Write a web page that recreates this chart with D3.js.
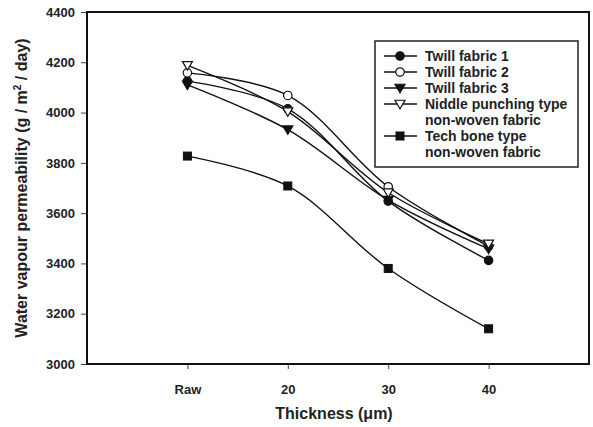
<!DOCTYPE html>
<html>
<head>
<meta charset="utf-8">
<script src="https://cdn.jsdelivr.net/npm/d3@7/dist/d3.min.js"></script>
<style>
  body { margin: 0; background: #fff; }
  svg text { font-family: Arial, "Liberation Sans", sans-serif; font-weight: bold; fill: #222; }
</style>
</head>
<body>
<div id="chart"></div>
<script>
// Thickness categories on the x axis
const categories = ['Raw', '20', '30', '40'];
const yTicks = [3000, 3200, 3400, 3600, 3800, 4000, 4200, 4400];

// Water vapour permeability per fabric (g / m2 / day)
const twill1 = [4125, 4015, 3648, 3412];
const twill2 = [4158, 4068, 3705, 3468];
const twill3 = [4110, 3932, 3652, 3458];
const niddle = [4188, 4004, 3682, 3478];
const techBone = [3827, 3708, 3380, 3140];

const series = [
  { name: ['Twill fabric 1'], values: twill1, marker: 'circle', fill: '#111' },
  { name: ['Twill fabric 2'], values: twill2, marker: 'circle', fill: '#fff' },
  { name: ['Twill fabric 3'], values: twill3, marker: 'triDown', fill: '#111' },
  { name: ['Niddle punching type', 'non-woven fabric'], values: niddle, marker: 'triDown', fill: '#fff' },
  { name: ['Tech bone type', 'non-woven fabric'], values: techBone, marker: 'square', fill: '#111' }
];

const width = 593, height = 427;
const margin = { left: 87, top: 12, right: 4, bottom: 63 };

const svg = d3.select('#chart').append('svg')
  .attr('width', width)
  .attr('height', height);

const x = d3.scaleLinear()
  .domain([-1, 4])
  .range([margin.left, width - margin.right]);

const y = d3.scaleLinear()
  .domain([3000, 4400])
  .range([height - margin.bottom, margin.top]);

// Axes
const xAxis = d3.axisBottom(x)
  .tickValues(d3.range(categories.length))
  .tickFormat(i => categories[i])
  .tickSize(5)
  .tickPadding(16);

const yAxis = d3.axisLeft(y)
  .tickValues(yTicks)
  .tickFormat(d3.format('d'))
  .tickSize(6)
  .tickPadding(6);

const gx = svg.append('g')
  .attr('transform', `translate(0,${height - margin.bottom})`)
  .call(xAxis);

const gy = svg.append('g')
  .attr('transform', `translate(${margin.left},0)`)
  .call(yAxis);

[gx, gy].forEach(g => {
  g.select('.domain').remove();
  g.selectAll('.tick line').attr('stroke', '#444').attr('stroke-width', 1);
  g.selectAll('.tick text').style('font-size', '13px').style('font-weight', 'bold').attr('fill', '#333');
});

// Frame
svg.append('rect')
  .attr('x', margin.left)
  .attr('y', margin.top)
  .attr('width', width - margin.right - margin.left)
  .attr('height', height - margin.bottom - margin.top)
  .attr('fill', 'none')
  .attr('stroke', '#111')
  .attr('stroke-width', 2);

// Axis titles
svg.append('text')
  .attr('x', 334)
  .attr('y', 419)
  .attr('text-anchor', 'middle')
  .style('font-size', '16px')
  .text('Thickness (\u03bcm)');

const yTitle = svg.append('text')
  .attr('transform', `translate(27,188) rotate(-90)`)
  .attr('text-anchor', 'middle')
  .style('font-size', '16px');
yTitle.append('tspan').text('Water vapour permeability (g / m');
yTitle.append('tspan').attr('dy', -6).style('font-size', '10px').text('2');
yTitle.append('tspan').attr('dy', 6).text(' / day)');

// Marker helper
function drawMarker(g, type, fill, cx, cy) {
  if (type === 'circle') {
    g.append('circle').attr('cx', cx).attr('cy', cy).attr('r', 4.2)
      .attr('fill', fill).attr('stroke', '#111').attr('stroke-width', 1.2);
  } else if (type === 'square') {
    g.append('rect').attr('x', cx - 4).attr('y', cy - 4).attr('width', 8).attr('height', 8)
      .attr('fill', fill).attr('stroke', '#111').attr('stroke-width', 1);
  } else {
    const s = 5;
    g.append('path')
      .attr('d', `M${cx - s},${cy - s * 0.75}L${cx + s},${cy - s * 0.75}L${cx},${cy + s * 0.95}Z`)
      .attr('fill', fill).attr('stroke', '#111').attr('stroke-width', 1.2);
  }
}

const line = d3.line()
  .x((d, i) => x(i))
  .y(d => y(d))
  .curve(d3.curveCatmullRom.alpha(0.5));

const plot = svg.append('g');

series.forEach(s => {
  plot.append('path')
    .datum(s.values)
    .attr('d', line)
    .attr('fill', 'none')
    .attr('stroke', '#111')
    .attr('stroke-width', 1.4);
});

series.forEach(s => {
  const g = plot.append('g');
  s.values.forEach((v, i) => drawMarker(g, s.marker, s.fill, x(i), y(v)));
});

// Legend
const legend = svg.append('g');
legend.append('rect')
  .attr('x', 375).attr('y', 41)
  .attr('width', 203).attr('height', 126)
  .attr('fill', '#fff')
  .attr('stroke', '#222')
  .attr('stroke-width', 1.5);

let rowY = 56;
series.forEach(s => {
  legend.append('line')
    .attr('x1', 384).attr('x2', 417)
    .attr('y1', rowY).attr('y2', rowY)
    .attr('stroke', '#111').attr('stroke-width', 1.4);
  drawMarker(legend, s.marker, s.fill, 400, rowY);
  s.name.forEach((t, k) => {
    legend.append('text')
      .attr('x', 425)
      .attr('y', rowY + k * 16 + 5)
      .style('font-size', '14px')
      .text(t);
  });
  rowY += 16 * s.name.length;
});
</script>
</body>
</html>
